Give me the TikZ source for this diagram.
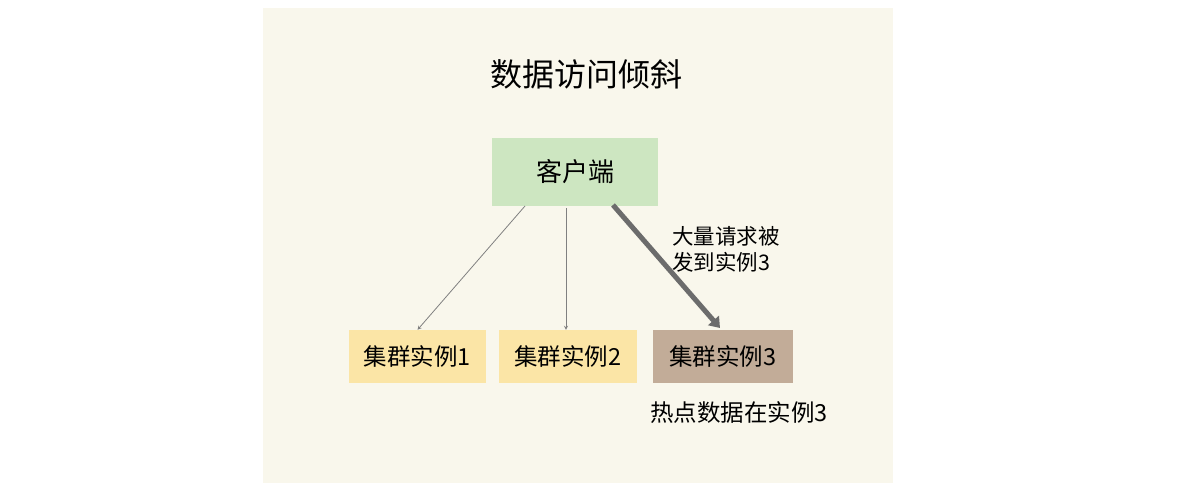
\documentclass[tikz,border=0pt]{standalone}
\usetikzlibrary{arrows.meta}
\usepackage{fontspec}
\newfontfamily\cjk{Noto Sans CJK SC}
\begin{document}
\begin{tikzpicture}[x=1pt,y=-1pt,font=\cjk,
 box/.style={draw=none,minimum height=53pt,font=\cjk\fontsize{23.5}{26}\selectfont},
 thin/.style={draw=gray,line width=0.8pt,-stealth},
 lbl/.style={font=\cjk\fontsize{21.5}{26}\selectfont,align=left}]
\useasboundingbox (0,0) rectangle (1180,500);
\fill[white] (0,0) rectangle (1180,500);
\fill[fill={rgb,255:red,249;green,247;blue,236}] (263,8) rectangle (893,483);
\node[font=\cjk\fontsize{32}{36}\selectfont] (title) at (586,74) {数据访问倾斜};
\node[box,fill={rgb,255:red,205;green,230;blue,193},minimum width=166pt,minimum height=68pt,font=\cjk\fontsize{26}{28}\selectfont] (client) at (575,172) {客户端};
\node[box,fill={rgb,255:red,251;green,229;blue,166},minimum width=137pt] (i1) at (417.5,356.5) {集群实例1};
\node[box,fill={rgb,255:red,251;green,229;blue,166},minimum width=138pt] (i2) at (568,356.5) {集群实例2};
\node[box,fill={rgb,255:red,194;green,172;blue,152},minimum width=140pt] (i3) at (723,356.5) {集群实例3};
\coordinate (a1) at (525,206); \coordinate (a2) at (566,208); \coordinate (a3) at (613,205);
\draw[thin] (a1) -- (i1.north);
\draw[thin] (a2) -- (i2.north -| a2);
\draw[draw=gray!85!black,line width=5pt,-{Triangle[length=10pt,width=14pt]}] (a3) -- (720,328);
\node[lbl,anchor=north west,inner sep=0pt] (l1) at (672,226) {大量请求被\\发到实例3};
\node[lbl,anchor=west,inner sep=0pt,font=\cjk\fontsize{23.5}{26}\selectfont] (l2) at (650,413) {热点数据在实例3};
\end{tikzpicture}
\end{document}
